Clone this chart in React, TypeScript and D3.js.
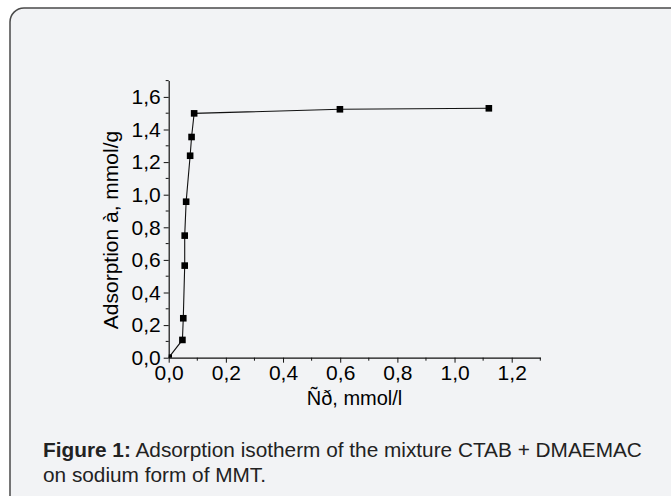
import { useEffect, useRef } from 'react';
import * as d3 from 'd3';

// Concentration (mmol/l) and adsorption (mmol/g)
const concValues = [0, 0.048, 0.051, 0.056, 0.056, 0.061, 0.075, 0.080, 0.089, 0.599, 1.12];
const adsValues = [0, 0.109, 0.242, 0.565, 0.749, 0.957, 1.239, 1.354, 1.499, 1.524, 1.530];

const xMajorTicks = [0, 0.2, 0.4, 0.6, 0.8, 1.0, 1.2];
const xMinorTicks = [0.1, 0.3, 0.5, 0.7, 0.9, 1.1, 1.3];
const yMajorTicks = [0, 0.2, 0.4, 0.6, 0.8, 1.0, 1.2, 1.4, 1.6];
const yMinorTicks = [0.1, 0.3, 0.5, 0.7, 0.9, 1.1, 1.3, 1.5, 1.7];

const xTitle = 'Ñð, mmol/l';
const yTitle = 'Adsorption à, mmol/g';
const captionBold = 'Figure 1:';
const captionLine1 = ' Adsorption isotherm of the mixture CTAB + DMAEMAC';
const captionLine2 = 'on sodium form of MMT.';

const W = 671;
const H = 496;

const App = () => {
  const svgRef = useRef<SVGSVGElement>(null);

  useEffect(() => {
    const svg = d3.select(svgRef.current);
    svg.selectAll('*').remove();

    // ==========================================
    // FRAME
    // ==========================================
    svg.append('rect')
      .attr('x', 10).attr('y', 8)
      .attr('width', 675).attr('height', 505)
      .attr('rx', 14).attr('ry', 14)
      .attr('fill', '#f2f3f5')
      .attr('stroke', '#4a4a4a')
      .attr('stroke-width', 1.5);

    // ==========================================
    // SCALES
    // ==========================================
    const x = d3.scaleLinear().domain([0, 1.3]).range([168.7, 540.3]);
    const y = d3.scaleLinear().domain([0, 1.7]).range([357.7, 80.6]);

    const fmt = (v: number) => d3.format('.1f')(v).replace('.', ',');
    const font = "'Liberation Sans', Arial, sans-serif";

    // ==========================================
    // AXES
    // ==========================================
    const xAxis = svg.append('g')
      .attr('transform', `translate(0,${y(0)})`)
      .call(d3.axisBottom(x).tickValues(xMajorTicks).tickFormat(fmt as any)
        .tickSize(5).tickSizeOuter(0).tickPadding(2));
    xAxis.append('g').selectAll('line')
      .data(xMinorTicks).enter().append('line')
      .attr('x1', d => x(d)).attr('x2', d => x(d))
      .attr('y1', 0).attr('y2', 3)
      .attr('stroke', '#111');

    const yAxis = svg.append('g')
      .attr('transform', `translate(${x(0)},0)`)
      .call(d3.axisLeft(y).tickValues(yMajorTicks).tickFormat(fmt as any)
        .tickSize(5).tickSizeOuter(0).tickPadding(3));
    yAxis.append('g').selectAll('line')
      .data(yMinorTicks).enter().append('line')
      .attr('y1', d => y(d)).attr('y2', d => y(d))
      .attr('x1', 0).attr('x2', -3)
      .attr('stroke', '#111');

    [xAxis, yAxis].forEach(g => {
      g.select('.domain').attr('stroke', '#111').attr('stroke-width', 1.2);
      g.selectAll('.tick line').attr('stroke', '#111');
      g.selectAll('text')
        .style('font-family', font)
        .style('font-size', '21px')
        .attr('fill', '#000');
    });

    // axis titles
    svg.append('text')
      .attr('x', (x(0) + x(1.3)) / 2)
      .attr('y', 405)
      .attr('text-anchor', 'middle')
      .style('font-family', font)
      .style('font-size', '20px')
      .attr('fill', '#000')
      .text(xTitle);

    svg.append('text')
      .attr('transform', `translate(118,230) rotate(-90)`)
      .attr('text-anchor', 'middle')
      .style('font-family', font)
      .style('font-size', '21px')
      .attr('fill', '#000')
      .text(yTitle);

    // ==========================================
    // LINE + MARKERS
    // ==========================================
    const pts = concValues.map((c, i) => ({ c, a: adsValues[i] }));

    svg.append('clipPath').attr('id', 'plot-clip')
      .append('rect')
      .attr('x', x(0)).attr('y', y(1.7))
      .attr('width', x(1.3) - x(0)).attr('height', y(0) - y(1.7));

    const line = d3.line<{ c: number; a: number }>()
      .x(d => x(d.c))
      .y(d => y(d.a));

    svg.append('path')
      .datum(pts)
      .attr('fill', 'none')
      .attr('stroke', '#111')
      .attr('stroke-width', 1.1)
      .attr('d', line);

    svg.append('g')
      .attr('clip-path', 'url(#plot-clip)')
      .selectAll('rect')
      .data(pts)
      .enter()
      .append('rect')
      .attr('x', d => x(d.c) - 3.3)
      .attr('y', d => y(d.a) - 3.3)
      .attr('width', 6.6)
      .attr('height', 6.6)
      .attr('fill', '#000');

    // ==========================================
    // CAPTION
    // ==========================================
    const cap1 = svg.append('text')
      .attr('x', 43).attr('y', 457)
      .style('font-family', font)
      .style('font-size', '19.5px')
      .attr('fill', '#222');
    cap1.append('tspan').attr('font-weight', 'bold').text(captionBold);
    cap1.append('tspan').text(captionLine1);

    const cap2 = svg.append('text')
      .attr('x', 43).attr('y', 482)
      .style('font-family', font)
      .style('font-size', '19.5px')
      .attr('fill', '#222')
      .text(captionLine2);

    const w1 = (cap1.node() as SVGTextElement).getComputedTextLength();
    const k = w1 > 0 ? 599 / w1 : 1;
    [cap1, cap2].forEach(t => {
      t.attr('transform', `translate(43,0) scale(${k},1) translate(-43,0)`);
    });
  }, []);

  return (
    <svg
      ref={svgRef}
      width={W}
      height={H}
      style={{ position: 'absolute', left: 0, top: 0, background: '#fff' }}
    />
  );
};

export default App;
